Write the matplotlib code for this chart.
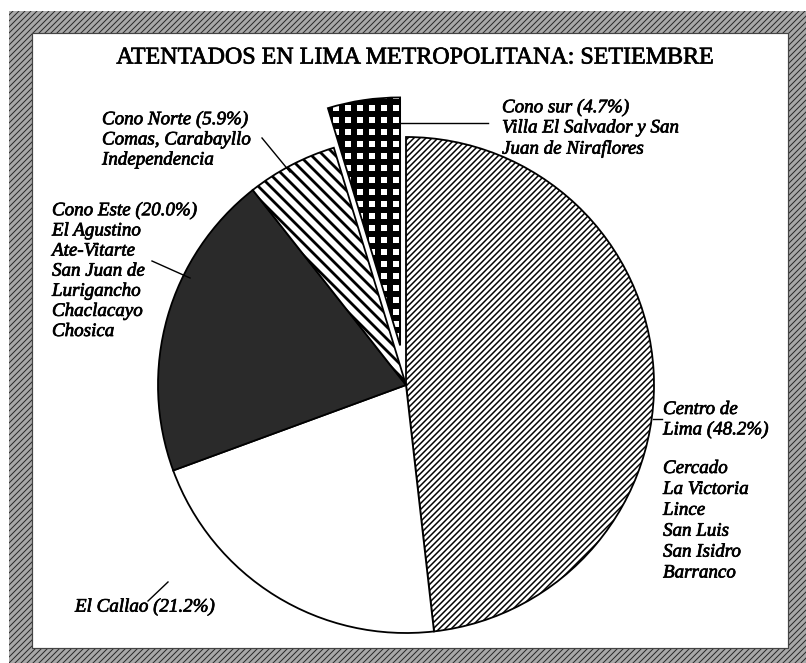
import matplotlib
matplotlib.use("Agg")
import matplotlib.pyplot as plt
import matplotlib.patheffects as pe
from matplotlib.patches import Rectangle

W, H = 806, 663

# datos del grafico (sentido horario desde arriba)
zonas = ["Centro de Lima", "El Callao", "Cono Este", "Cono Norte", "Cono sur"]
porcentajes = [48.2, 21.2, 20.0, 5.9, 4.7]
rellenos = ["white", "white", "#2a2a2a", "white", "white"]
tramas = ["////", None, None, "\\\\", "+"]
grosor_trama = [1.5, 1.0, 1.0, 2.8, 6.0]
separar = [0, 0, 0, 0, 40]

titulo = "ATENTADOS EN LIMA METROPOLITANA: SETIEMBRE"
txt_centro = "Centro de\nLima (48.2%)"
txt_centro2 = "Cercado\nLa Victoria\nLince\nSan Luis\nSan Isidro\nBarranco"
txt_callao = "El Callao (21.2%)"
txt_este = "Cono Este (20.0%)\nEl Agustino\nAte-Vitarte\nSan Juan de\nLurigancho\nChaclacayo\nChosica"
txt_norte = "Cono Norte (5.9%)\nComas, Carabayllo\nIndependencia"
txt_sur = "Cono sur (4.7%)\nVilla El Salvador y San\nJuan de Niraflores"

def Y(y):
    return H - y

fig = plt.figure(figsize=(W / 72, H / 72), dpi=72)
ax = fig.add_axes([0, 0, 1, 1])

# marco gris tramado
ax.add_patch(Rectangle((9, 0), W - 9, Y(11), facecolor="#a8a8a8", hatch="////",
                       edgecolor="#2a2a2a", linewidth=0, zorder=0))
ax.add_patch(Rectangle((32, Y(648)), 788 - 32, 648 - 33, facecolor="white",
                       edgecolor="#444444", linewidth=1.2, zorder=1))

wedges, _ = ax.pie(porcentajes, explode=separar, startangle=90, counterclock=False,
                   center=(406, Y(385)), radius=248, colors=rellenos, hatch=tramas,
                   wedgeprops=dict(edgecolor="black", linewidth=1.8, zorder=2))
for w, lw in zip(wedges, grosor_trama):
    if hasattr(w, "set_hatch_linewidth"):
        w.set_hatch_linewidth(lw)

ax.set_xlim(0, W)
ax.set_ylim(0, H)
ax.axis("off")

grueso = [pe.withStroke(linewidth=0.7, foreground="black")]
fuente = dict(family="Liberation Serif", style="italic", fontsize=19, color="black",
              linespacing=1.24, zorder=5, path_effects=grueso)
ax.text(416, Y(58), titulo, family="Liberation Serif", fontsize=24, ha="center",
        va="center", color="black", zorder=5, path_effects=grueso)
ax.text(102, Y(111), txt_norte, va="top", **fuente)
ax.text(502, Y(99), txt_sur, va="top", **fuente)
ax.text(52, Y(202), txt_este, va="top", **fuente)
ax.text(663, Y(401), txt_centro, va="top", **fuente)
ax.text(663, Y(460), txt_centro2, va="top", **{**fuente, "linespacing": 1.3})
ax.text(75, Y(607), txt_callao, va="center", **fuente)

# lineas guia
linea = dict(color="black", linewidth=1.4, zorder=4)
ax.plot([262, 290], [Y(138), Y(172)], **linea)
ax.plot([400, 488], [Y(123), Y(123)], **linea)
ax.plot([152, 190], [Y(261), Y(278)], **linea)
ax.plot([653, 662], [Y(419), Y(419)], **linea)
ax.plot([148, 168], [Y(601), Y(582)], **linea)

fig.savefig("out.png", dpi=72)
